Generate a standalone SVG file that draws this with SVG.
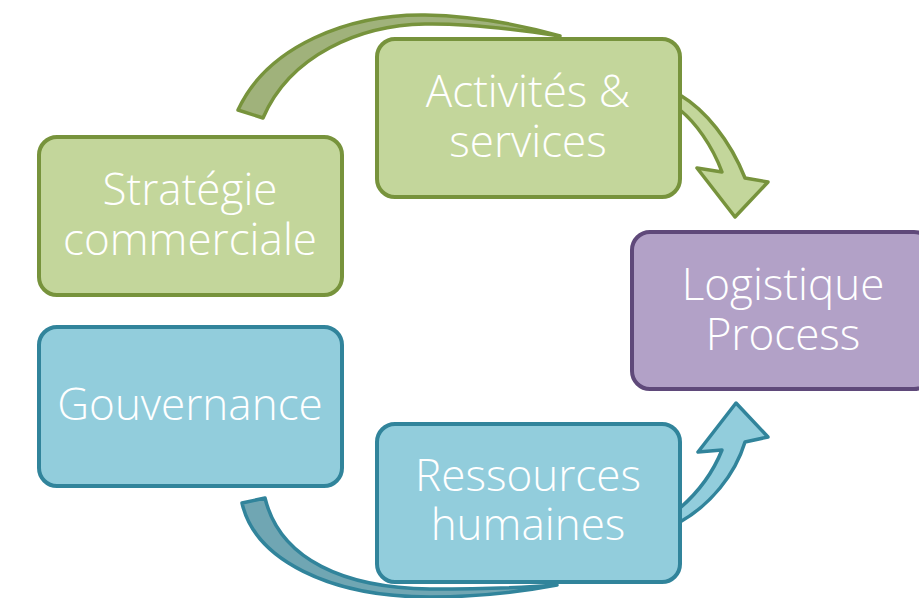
<svg xmlns="http://www.w3.org/2000/svg" width="919" height="598" viewBox="0 0 919 598">
<style>
.g{fill:#c3d69b;stroke:#77933c;stroke-width:4}
.b{fill:#92cddc;stroke:#31849b;stroke-width:4}
.p{fill:#b2a1c7;stroke:#5f497a;stroke-width:4}
.ag{stroke:#77933c;stroke-width:3.5;stroke-linejoin:round}
.ab{stroke:#31849b;stroke-width:3.5;stroke-linejoin:round}
text{font-family:"Open Sans","Noto Sans",sans-serif;font-size:44px;font-weight:300;fill:#fff;text-anchor:middle}
</style>
<rect width="919" height="598" fill="#fff"/>
<g id="connectors">
<path class="ag" fill="#a0b27b" d="M238,110 C268,45 350,14 425,15 C480,16 525,26 560,36 C520,30 470,23 425,24 C360,25 290,55 263,118 Z"/>
<path class="ag" fill="#c3d69b" d="M680,95 C705,110 730,140 745,178 L768,182 L735,217 L697,168 L722,172 C712,145 695,122 680,110 Z"/>
<path class="ab" fill="#92cddc" d="M680,522 C710,505 735,475 745,442 L768,437 L736,403 L698,452 L722,450 C712,475 695,495 680,508 Z"/>
<path class="ab" fill="#70a6b3" d="M242,503 C255,560 330,597 430,597 C480,597 520,592 557,585 C520,588 480,589 430,589 C345,588 280,560 265,498 Z"/>
</g>
<g id="strategie">
<rect class="g" x="39" y="137" width="303" height="158" rx="18"/>
<text x="190" y="205">Stratégie<tspan x="190" dy="50">commerciale</tspan></text>
</g>
<g id="activites">
<rect class="g" x="377" y="39" width="303" height="158" rx="18"/>
<text x="528" y="107">Activités &amp;<tspan x="528" dy="50">services</tspan></text>
</g>
<g id="logistique">
<rect class="p" x="632" y="232" width="300" height="157" rx="18"/>
<text x="783" y="300">Logistique<tspan x="783" dy="50">Process</tspan></text>
</g>
<g id="gouvernance">
<rect class="b" x="39" y="327" width="303" height="159" rx="18"/>
<text x="190" y="420">Gouvernance</text>
</g>
<g id="ressources">
<rect class="b" x="377" y="424" width="303" height="158" rx="18"/>
<text x="528" y="491">Ressources<tspan x="528" dy="49">humaines</tspan></text>
</g>
</svg>
